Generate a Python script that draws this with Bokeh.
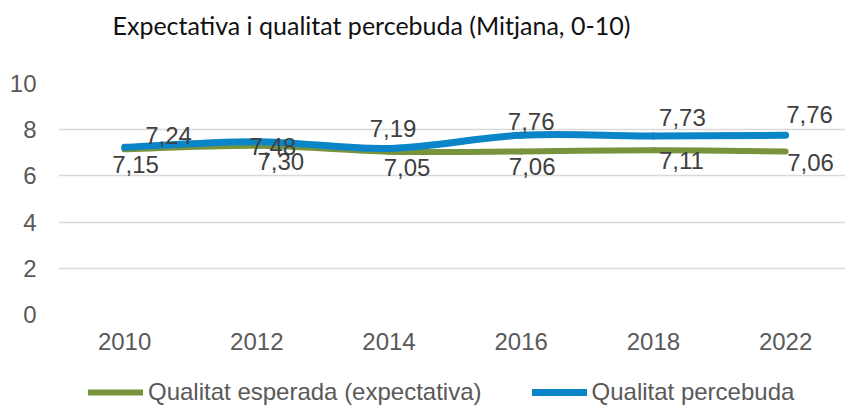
from bokeh.plotting import figure
from bokeh.layouts import column
from bokeh.models import Range1d, FixedTicker, Legend, LegendItem, Title, ColumnDataSource
from bokeh.core.properties import value
from bokeh.embed import file_html
from bokeh.resources import INLINE

# ---- data ----
years = ["2010", "2012", "2014", "2016", "2018", "2022"]
esperada = [7.15, 7.30, 7.05, 7.06, 7.11, 7.06]
percebuda = [7.24, 7.48, 7.19, 7.76, 7.73, 7.76]
y_ticks = [0, 2, 4, 6, 8, 10]
title_text = "Expectativa i qualitat percebuda (Mitjana, 0-10)"
name_esperada = "Qualitat esperada (expectativa)"
name_percebuda = "Qualitat percebuda"

# ---- styles / label placement (pixels) ----
GREEN = "#77933C"
BLUE = "#0A86C8"
esp_dx = [11, 24, 18, 11, 28, 25]
esp_dy = [15, 16, 16, 15, 10, 11]
per_dx = [44, 16, 4, 10, 29, 24]
per_dy = [-12, 5, -20, -14, -18, -21]

W = 845
H_MAIN, H_LEG = 366, 40
LEFT, TOP = 58, 83
BOTTOM = H_MAIN - 314
band_px = 132.2
frame_w = W - LEFT

xs = [i + 0.5 for i in range(len(years))]

p = figure(width=W, height=H_MAIN, output_backend="svg", toolbar_location=None,
           x_range=Range1d(0, frame_w / band_px), y_range=Range1d(0, 10),
           min_border_left=LEFT, min_border_right=0, min_border_top=TOP,
           min_border_bottom=BOTTOM)
p.title = None
p.outline_line_color = None
p.background_fill_color = "white"
p.border_fill_color = "white"

# spacer (closest to frame) then the real title
p.add_layout(Title(text=" ", text_font_size="1px", standoff=36), "above")
p.add_layout(Title(text=title_text, align="left", offset=54, standoff=10,
                   text_font="Lato", text_font_size="25px",
                   text_font_style="normal", text_color="#111111"), "above")

# axes
for ax in (p.xaxis, p.yaxis):
    ax.axis_line_color = None
    ax.major_tick_line_color = None
    ax.minor_tick_line_color = None
    ax.major_tick_out = 0
    ax.major_tick_in = 0
    ax.major_label_text_font = "Liberation Sans"
    ax.major_label_text_font_size = "24px"
    ax.major_label_text_color = "#595959"

p.xaxis.ticker = FixedTicker(ticks=xs)
p.xaxis.major_label_overrides = {x: y for x, y in zip(xs, years)}
p.xaxis.major_label_standoff = 18
p.yaxis.ticker = FixedTicker(ticks=y_ticks)
p.yaxis.major_label_standoff = 22

p.xgrid.grid_line_color = None
p.ygrid.ticker = FixedTicker(ticks=y_ticks)
p.ygrid.grid_line_color = "#D9D9D9"
p.ygrid.grid_line_width = 1.5


def smooth(vals):
    """Bezier control points (Catmull-Rom, like Excel's smoothed line)."""
    n = len(vals)
    pts = list(zip(xs, vals))
    seg = dict(x0=[], y0=[], x1=[], y1=[], cx0=[], cy0=[], cx1=[], cy1=[])
    for i in range(n - 1):
        p0 = pts[max(i - 1, 0)]
        p1 = pts[i]
        p2 = pts[i + 1]
        p3 = pts[min(i + 2, n - 1)]
        seg["x0"].append(p1[0]); seg["y0"].append(p1[1])
        seg["x1"].append(p2[0]); seg["y1"].append(p2[1])
        seg["cx0"].append(p1[0] + (p2[0] - p0[0]) / 6)
        seg["cy0"].append(p1[1] + (p2[1] - p0[1]) / 6)
        seg["cx1"].append(p2[0] - (p3[0] - p1[0]) / 6)
        seg["cy1"].append(p2[1] - (p3[1] - p1[1]) / 6)
    return ColumnDataSource(seg)


p.bezier(x0="x0", y0="y0", x1="x1", y1="y1", cx0="cx0", cy0="cy0",
         cx1="cx1", cy1="cy1", source=smooth(esperada),
         line_color=GREEN, line_width=6, line_cap="round")
p.bezier(x0="x0", y0="y0", x1="x1", y1="y1", cx0="cx0", cy0="cy0",
         cx1="cx1", cy1="cy1", source=smooth(percebuda),
         line_color=BLUE, line_width=7, line_cap="round")


def fmt(v):
    return f"{v:.2f}".replace(".", ",")


src_e = ColumnDataSource(dict(x=xs, y=esperada, t=[fmt(v) for v in esperada],
                              dx=esp_dx, dy=esp_dy))
src_p = ColumnDataSource(dict(x=xs, y=percebuda, t=[fmt(v) for v in percebuda],
                              dx=per_dx, dy=per_dy))
for src in (src_e, src_p):
    p.text(x="x", y="y", text="t", x_offset="dx", y_offset="dy", source=src,
           text_font=value("Liberation Sans"), text_font_size="24px",
           text_color="#404040", text_align="center", text_baseline="middle")

# ---- legend strip below the chart (frame aligned with the chart's frame) ----
lf = figure(width=W, height=H_LEG, output_backend="svg", toolbar_location=None,
            x_axis_type=None, y_axis_type=None, min_border=0,
            x_range=Range1d(0, 1), y_range=Range1d(0, 1))
lf.title = None
lf.outline_line_color = None
lf.background_fill_color = "white"
lf.border_fill_color = "white"
# series drawn outside this strip's visible range; only their legend swatches show
l_esp = lf.line(x=xs, y=esperada, line_color=GREEN, line_width=6, line_cap="round")
l_per = lf.line(x=xs, y=percebuda, line_color=BLUE, line_width=7, line_cap="round")
legend = Legend(items=[LegendItem(label=name_esperada, renderers=[l_esp]),
                       LegendItem(label=name_percebuda, renderers=[l_per])],
                location=(30, 0), orientation="horizontal",
                glyph_width=55, glyph_height=20, label_height=20,
                label_standoff=5, spacing=50,
                padding=0, margin=0, border_line_color=None,
                background_fill_alpha=0,
                label_text_font="Liberation Sans", label_text_font_size="24px",
                label_text_color="#595959")
lf.add_layout(legend, "center")

root = column(p, lf, spacing=0)
open("out.html", "w").write(file_html(root, INLINE))
